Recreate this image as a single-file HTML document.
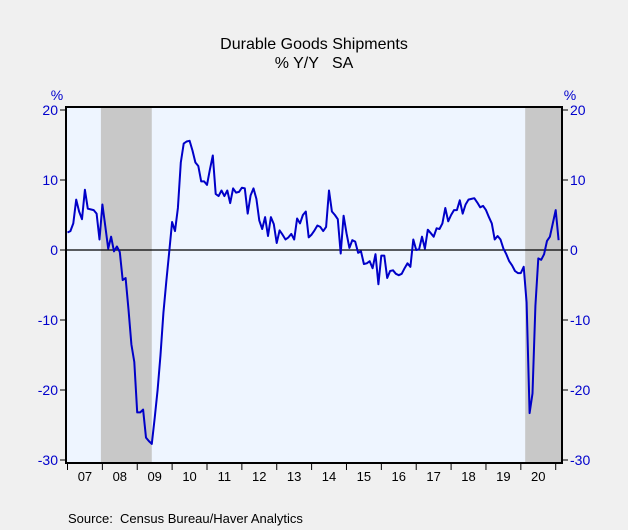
<!DOCTYPE html>
<html><head><meta charset="utf-8"><style>
body{margin:0;background:#f0f0f0;}
svg{display:block;font-family:"Liberation Sans",sans-serif;}
</style></head><body>
<svg width="628" height="530">
<rect x="0" y="0" width="628" height="530" fill="#f0f0f0"/>
<text x="314" y="49" text-anchor="middle" font-size="16" fill="#000">Durable Goods Shipments</text>
<text x="314" y="68" text-anchor="middle" font-size="16" fill="#000" xml:space="preserve">% Y/Y   SA</text>
<text x="57" y="100" text-anchor="middle" font-size="14" fill="#0000cc">%</text>
<text x="570" y="100" text-anchor="middle" font-size="14" fill="#0000cc">%</text>
<g id="plot"></g>
<text x="68" y="523" font-size="13" fill="#000" xml:space="preserve">Source:  Census Bureau/Haver Analytics</text>
</svg>
<script>
const yearLabels=["07","08","09","10","11","12","13","14","15","16","17","18","19","20"];
const yTicks=[20,10,0,-10,-20,-30];
const recessionStarts=[11.5,157.5];
const recessionEnds=[29,170.5];
const shipments=[
2.5,2.7,3.8,7.2,5.5,4.4,8.6,5.9,5.8,5.7,5.2,1.5,
6.5,3.4,0.2,1.9,-0.2,0.5,-0.3,-4.3,-4,-8.5,-13.5,-16,
-23.2,-23.2,-22.8,-26.8,-27.3,-27.7,-24,-20,-15,-9,-4.5,-0.3,
4,2.7,6,12.5,15.2,15.5,15.6,14.2,12.5,12,9.8,9.8,
9.3,11.5,13.5,8,7.7,8.5,7.7,8.5,6.7,8.8,8.2,8.3,
8.9,8.8,5.2,7.8,8.8,7.3,4.2,3,4.7,2,4.7,3.7,
1,2.8,2.2,1.5,1.8,2.3,1.5,4.5,3.8,5,5.5,1.8,
2.2,2.8,3.5,3.3,2.7,3.3,8.5,5.5,5,4.4,-0.5,4.9,
2.4,0.3,1.4,1.2,-0.4,-0.2,-2,-1.9,-1.6,-2.6,-0.6,-4.9,
-0.8,-0.8,-4,-3,-2.9,-3.4,-3.6,-3.4,-2.6,-1.9,-2.4,1.5,
0,0.1,1.9,0.2,2.9,2.4,1.9,3.1,3,3.8,6,4.1,
5,5.7,5.7,7.1,5.2,6.5,7.2,7.3,7.4,6.8,6.1,6.3,
5.7,4.7,3.8,1.5,2,1.5,0.2,-0.6,-1.6,-2.2,-3,-3.3,
-3.3,-2.4,-7.5,-23.3,-20.5,-8,-1.2,-1.4,-0.6,1.3,1.9,3.8,
5.7,1.4];
const NS="http://www.w3.org/2000/svg";
const L=66,R=562,T=107,B=463;
const xs=m=>67.5+m*2.906;
const ys=v=>250-v*7;
const g=document.getElementById('plot');
function mk(tag,attrs){const e=document.createElementNS(NS,tag);for(const k in attrs)e.setAttribute(k,attrs[k]);g.appendChild(e);return e;}
let e=mk('rect',{x:L,y:T,width:R-L,height:B-T,fill:'#eef5ff'});


recessionStarts.forEach((s,i)=>{
 const x0=xs(s),x1=Math.min(xs(recessionEnds[i]),R);
 const r=mk('rect',{x:x0,y:T,width:x1-x0,height:B-T,fill:'#c8c8c8'});
 
 
});
e=mk('line',{x1:L,x2:R,y1:ys(0),y2:ys(0),stroke:'#000','stroke-width':1.2});


const pts=shipments.map((v,i)=>xs(i).toFixed(1)+','+ys(v).toFixed(1)).join(' ');
e=mk('polyline',{points:pts,fill:'none',stroke:'#0000c8','stroke-width':2,'stroke-linejoin':'round'});


e=mk('rect',{x:L,y:T,width:R-L,height:B-T,fill:'none',stroke:'#000','stroke-width':2});


yTicks.forEach(v=>{
 const y=ys(v);
 let t=mk('line',{x1:L-6,x2:L,y1:y,y2:y,stroke:'#000'});
 
 
 t=mk('line',{x1:R,x2:R+6,y1:y,y2:y,stroke:'#000'});
 
 
 let tx=mk('text',{x:L-8,y:y+5,'text-anchor':'end','font-size':14,fill:'#0000cc'});
 tx.textContent=v;
 
 
 tx=mk('text',{x:R+8,y:y+5,'text-anchor':'start','font-size':14,fill:'#0000cc'});
 tx.textContent=v;
 
 
});
for(let i=0;i<=yearLabels.length;i++){
 const x=xs(i*12-0.0);
 const t=mk('line',{x1:x,x2:x,y1:B,y2:B+7,stroke:'#000'});
 
 
 if(i<yearLabels.length){
  const tx=mk('text',{x:xs(i*12+6),y:B+18,'text-anchor':'middle','font-size':13,fill:'#000'});
  tx.textContent=yearLabels[i];
  
  
 }
}
</script>
</body></html>
